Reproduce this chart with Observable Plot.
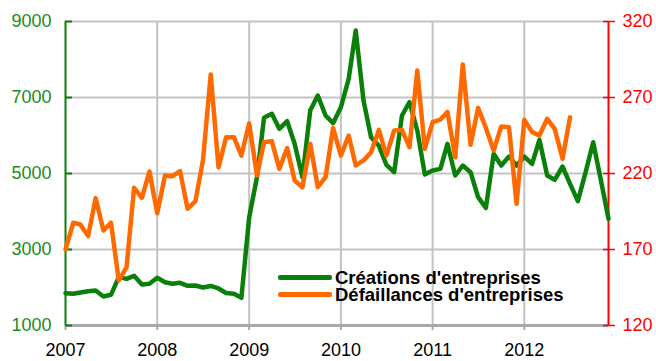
<!DOCTYPE html>
<html>
<head>
<meta charset="utf-8">
<script src="https://cdn.jsdelivr.net/npm/d3@7"></script>
<script src="https://cdn.jsdelivr.net/npm/@observablehq/plot@0.6"></script>
<style>
  html, body { margin: 0; padding: 0; background: #fff; }
  #wrap { position: relative; width: 656px; height: 361px; font-family: "Liberation Sans", Arial, sans-serif; }
  #legend { position: absolute; left: 278px; top: 269px; font-weight: bold; font-size: 18.5px; color: #000; }
  #legend .row { display: flex; align-items: center; height: 17px; line-height: 17px; white-space: nowrap; }
  #legend .sw { width: 54px; height: 5px; margin-right: 3px; border-radius: 2px; }
</style>
</head>
<body>
<div id="wrap"><div id="legend"></div></div>
<script>
// ---- data ----
const startYear = 2007, startMonth = 0, monthCount = 72;
const yearLabels = ["2007", "2008", "2009", "2010", "2011", "2012"];
const leftTicks = [1000, 3000, 5000, 7000, 9000];
const rightTicks = [120, 170, 220, 270, 320];
const seriesNames = ["Créations d'entreprises", "Défaillances d'entreprises"];
const seriesColors = ["#0a800a", "#ff6a00"];

// Créations d'entreprises (left axis), monthly Jan 2007 - Dec 2012
const creations = [
  1850, 1834, 1868, 1903, 1921, 1763, 1808, 2272, 2228, 2307, 2079, 2097,
  2255, 2140, 2097, 2123, 2044, 2053, 2000, 2040, 1975, 1855, 1834, 1728,
  3850, 4900, 6466, 6571, 6176, 6377, 5781, 4903, 6658, 7053, 6526, 6324,
  6745, 7492, 8763, 6921, 5955, 5730, 5230, 5034, 6526, 6876, 6132, 4974,
  5079, 5123, 5781, 4947, 5210, 5035, 4377, 4097, 5518, 5210, 5447, 5210,
  5447, 5254, 5886, 4947, 4834, 5184, 4729, 4271, 5035, 5824, 4816, 3808
];
// Défaillances d'entreprises (right axis), monthly Jan 2007 - Jul 2012
const defaillances = [
  170, 187.6, 186.5, 178.8, 203.8, 182.5, 187.6, 149.6, 158.4, 210.6, 204, 221.3,
  193.9, 218.7, 218.2, 221.5, 196.8, 201.8, 228.6, 285.1, 224, 243.9, 243.9, 231.8,
  253, 218.7, 240.6, 241.3, 223.1, 236.7, 215.4, 211, 239.5, 211, 217.6, 250,
  231.8, 245, 225.3, 228.6, 234, 248.7, 231.8, 248.3, 248.7, 237.3, 287.8, 236.2,
  253.8, 255.5, 260.5, 230.7, 291.7, 238.9, 263.2, 250, 235.1, 250.9, 250.5, 200.1,
  255.3, 247.2, 245, 256, 249.4, 229.7, 257
];

// ---- build ----
const months = d3.range(monthCount).map(i => new Date(Date.UTC(startYear, startMonth + i, 1)));
const yearDates = yearLabels.map(y => new Date(Date.UTC(+y, 0, 1)));
// map right axis (120..320) onto left axis (1000..9000)
const toLeft = v => 1000 + (v - 120) * 40;
const fromLeft = v => Math.round((v - 1000) / 40 + 120);

const credRows = creations.map((v, i) => ({date: months[i], v}));
const defRows = defaillances.map((v, i) => ({date: months[i], v: toLeft(v)}));

const green = "#0a800a", labelGreen = "#1a8c1a", red = "#ff0000", grid = "#c3c3c3";

const chart = Plot.plot({
  width: 656,
  height: 361,
  marginLeft: 65,
  marginRight: 48,
  marginTop: 21,
  marginBottom: 36,
  style: {fontFamily: "'Liberation Sans', Arial, sans-serif", fontSize: "18px", background: "transparent", overflow: "visible"},
  x: {type: "utc", domain: [months[0], months[monthCount - 1]], label: null},
  y: {domain: [1000, 9000], label: null},
  marks: [
    // grid
    Plot.ruleX(yearDates.slice(1), {stroke: grid, strokeWidth: 2}),
    Plot.ruleY(leftTicks.slice(1), {stroke: grid, strokeWidth: 2}),
    // bottom axis
    Plot.axisX(yearDates, {anchor: "bottom", label: null, tickSize: 5, tickPadding: 13, stroke: "#a8a8a8", strokeWidth: 2, fill: "#000",
      tickFormat: d => String(d.getUTCFullYear())}),
    Plot.ruleY([1000], {stroke: "#a8a8a8", strokeWidth: 3}),
    // left axis
    Plot.axisY(leftTicks, {anchor: "left", label: null, tickSize: 0, tickPadding: 14, fill: labelGreen, tickFormat: d => String(d)}),
    Plot.axisY(leftTicks, {anchor: "left", label: null, tickSize: -7, stroke: green, strokeWidth: 2, tickFormat: () => ""}),
    Plot.ruleX([months[0]], {stroke: green, strokeWidth: 2}),
    // right axis
    Plot.axisY(rightTicks.map(toLeft), {anchor: "right", label: null, tickSize: 0, tickPadding: 14, fill: red, tickFormat: d => String(fromLeft(d))}),
    Plot.axisY(rightTicks.map(toLeft), {anchor: "right", label: null, tickSize: 6, stroke: red, strokeWidth: 1.5, tickFormat: () => ""}),
    Plot.axisY(rightTicks.map(toLeft), {anchor: "right", label: null, tickSize: -6, stroke: red, strokeWidth: 1.5, tickFormat: () => ""}),
    Plot.ruleX([months[monthCount - 1]], {stroke: red, strokeWidth: 2}),
    // series
    Plot.lineY(credRows, {x: "date", y: "v", stroke: seriesColors[0], strokeWidth: 4.5, strokeLinejoin: "round"}),
    Plot.lineY(defRows, {x: "date", y: "v", stroke: seriesColors[1], strokeWidth: 4.5, strokeLinejoin: "round"})
  ]
});

const wrap = document.getElementById("wrap");
wrap.insertBefore(chart, wrap.firstChild);

const legend = document.getElementById("legend");
seriesNames.forEach((name, i) => {
  const row = document.createElement("div");
  row.className = "row";
  const sw = document.createElement("span");
  sw.className = "sw";
  sw.style.background = seriesColors[i];
  const t = document.createElement("span");
  t.textContent = name;
  row.appendChild(sw);
  row.appendChild(t);
  legend.appendChild(row);
});
</script>
</body>
</html>
